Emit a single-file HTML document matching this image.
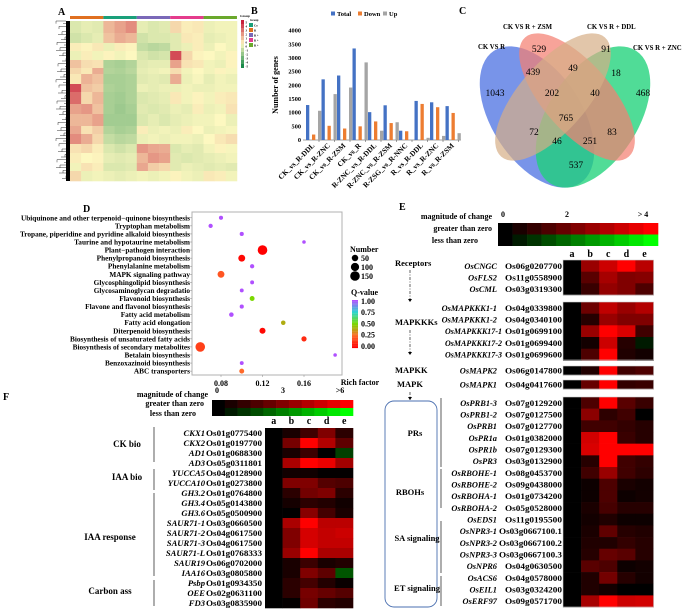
<!DOCTYPE html>
<html><head><meta charset="utf-8"><style>
html,body{margin:0;padding:0;background:#fff}
svg{display:block;font-family:"Liberation Serif",serif}
text{font-weight:bold}
</style></head><body>
<svg id="fig" width="685" height="609" viewBox="0 0 685 609" xmlns="http://www.w3.org/2000/svg">
<g id="gA"></g>
<g id="gB"></g>
<g id="gC"></g>
<g id="gD"></g>
<g id="gE"></g>
<g id="gF"></g>
</svg>
<script>
// ---------- DATA ----------
const aBlockHeights=[12,10,8,9,8,6,10,8,12,10,12,8,10,9,10,8,10];
const aBlockValues=[
[-0.6,-0.4,-0.5,1.2,1.6,2.0,-0.4,-0.6,-0.5,0.6,0.2,0.3,-0.3,-0.2,-0.2],
[-0.8,-0.6,-0.4,1.0,1.4,1.2,-0.8,-0.6,-0.6,-0.5,0.3,0.2,-0.4,-0.3,-0.2],
[0.2,0.1,0.3,-0.3,0.2,0.1,-1.0,-1.2,-1.1,-0.5,-0.3,0.2,-0.3,0.0,-0.2],
[-0.3,0.2,-0.2,0.1,-0.2,0.0,-0.6,-0.8,-0.7,3.2,0.6,0.1,0.0,-0.2,0.1],
[1.0,0.5,0.4,-1.4,-1.5,-1.3,-0.5,-0.4,-0.4,1.6,0.4,0.3,-0.2,-0.3,0.1],
[0.6,0.3,1.4,-1.3,-1.4,-1.2,-0.4,-0.3,-0.2,0.5,-0.2,0.0,-0.2,0.1,-0.1],
[0.3,1.3,1.0,-1.5,-1.5,-1.4,-0.5,-0.4,-0.5,1.4,-0.3,-0.1,-0.4,-0.2,-0.3],
[3.2,1.0,0.8,-1.4,-1.5,-1.4,-0.3,-0.4,-0.3,-0.3,-0.2,-0.3,-0.3,-0.2,-0.2],
[2.6,0.6,1.2,-1.5,-1.6,-1.4,-0.6,-0.5,-0.4,0.3,-0.2,0.1,-0.2,0.2,0.3],
[1.6,1.8,1.0,-1.5,-1.7,-1.5,-0.5,-0.6,-0.5,-0.3,-0.4,0.2,-0.3,-0.2,0.4],
[1.2,1.2,1.6,-1.6,-1.6,-1.6,-0.6,-0.4,-0.6,-0.4,-0.3,-0.2,-0.2,0.0,-0.3],
[1.5,0.4,0.8,-1.3,-1.5,-1.4,0.2,-0.3,-0.2,-0.3,0.2,0.0,-0.3,-0.2,-0.1],
[2.0,1.4,0.6,-1.0,-1.2,-1.1,-0.3,-0.2,-0.3,-0.2,-0.2,-0.3,0.0,0.3,0.5],
[0.4,0.6,0.2,-0.6,-0.8,-0.6,1.8,1.5,1.4,-0.6,-0.4,-0.5,-0.2,0.1,-0.1],
[0.2,0.0,0.1,-0.4,-0.5,-0.4,1.2,1.8,1.6,-0.5,-0.6,-0.5,-0.4,-0.3,-0.2],
[-0.2,0.4,0.2,-0.6,-0.6,-0.5,1.5,0.8,0.6,-0.5,-0.3,-0.4,-0.5,-0.4,-0.5],
[0.6,-0.3,-0.2,-0.3,-0.4,-0.3,-0.2,-0.3,-0.2,0.1,-0.2,-0.3,0.3,0.2,-0.2]];
const aGroupColors=["#e07020","#1aa07a","#7a68b8","#e43c8c","#6aa82c"];

const bCategories=["CK_vs_R-DDL","CK_vs_R-ZNC","CK_vs_R-ZSM","CK_vs_R","R-ZNC_vs_R-DDL","R-ZNC_vs_R-ZSM","R-ZSG_vs_R-NNC","R_vs_R-DDL","R_vs_R-ZNC","R_vs_R-ZSM"];
const bTotal=[1280,2220,2360,3350,1020,1270,340,1430,1380,1240];
const bDown=[200,520,420,500,680,620,320,1320,1200,990];
const bUp=[1070,1680,1920,2840,340,650,0,80,150,250];
const bTicks=[0,500,1000,1500,2000,2500,3000,3500,4000];

const cSetLabels=["CK VS R","CK VS R + ZSM","CK VS R + DDL","CK VS R + ZNC"];
const cCounts=[529,91,439,49,18,1043,202,40,468,765,72,83,46,251,537];

const dPathways=["Ubiquinone and other terpenoid\u2212quinone biosynthesis","Tryptophan metabolism","Tropane, piperidine and pyridine alkaloid biosynthesis","Taurine and hypotaurine metabolism","Plant\u2212pathogen interaction","Phenylpropanoid biosynthesis","Phenylalanine metabolism","MAPK signaling pathway","Glycosphingolipid biosynthesis","Glycosaminoglycan degradatio","Flavonoid biosynthesis","Flavone and flavonol biosynthesis","Fatty acid metabolism","Fatty acid elongation","Diterpenoid biosynthesis","Biosynthesis of unsaturated fatty acids","Biosynthesis of secondary metabolites","Betalain biosynthesis","Benzoxazinoid biosynthesis","ABC transporters"];
const dRich=[0.08,0.07,0.10,0.16,0.12,0.10,0.11,0.08,0.11,0.10,0.11,0.10,0.09,0.14,0.12,0.16,0.06,0.19,0.10,0.10];
const dNumber=[10,12,10,5,150,60,12,60,8,8,20,10,15,15,40,25,150,5,8,20];
const dQ=[1,1,1,1,0,0.02,1,0.2,1,1,0.5,1,1,0.4,0.02,0.1,0.15,1,1,0.25];
const dXTicks=[0.08,0.12,0.16];

const eGenes=["OsCNGC","OsFLS2","OsCML","OsMAPKKK1-1","OsMAPKKK1-2","OsMAPKKK17-1","OsMAPKKK17-2","OsMAPKKK17-3","OsMAPK2","OsMAPK1","OsPRB1-3","OsPRB1-2","OsPRB1","OsPR1a","OsPR1b","OsPR3","OsRBOHE-1","OsRBOHE-2","OsRBOHA-1","OsRBOHA-2","OsEDS1","OsNPR3-1","OsNPR3-2","OsNPR3-3","OsNPR6","OsACS6","OsEIL1","OsERF97"];
const eIds=["Os06g0207700","Os11g0558900","Os03g0319300","Os04g0339800","Os04g0340100","Os01g0699100","Os01g0699400","Os01g0699600","Os06g0147800","Os04g0417600","Os07g0129200","Os07g0127500","Os07g0127700","Os01g0382000","Os07g0129300","Os03g0132900","Os08g0453700","Os09g0438000","Os01g0734200","Os05g0528000","Os11g0195500","Os03g0667100.1","Os03g0667100.2","Os03g0667100.3","Os04g0630500","Os04g0578000","Os03g0324200","Os09g0571700"];
const eValues=[
[0,2.4,3.2,4,2.9],[0,1.4,2.6,2.0,2.1],[0,0.9,2.3,2.0,1.2],
[0,1.7,3.0,2.4,2.8],[0,0.6,2.4,2.0,2.0],[0,2.4,4,3.4,1.0],[0,0.3,3.2,0.6,-0.4],[0,1.2,4,0.5,0.3],
[0,0.5,4,1.0,1.2],[0,1.6,4,0.8,0.9],
[0,1.2,4,1.4,0.9],[0,2.2,0.7,1.0,0],[0,1.0,1.0,0.8,0.6],[0,3.3,4,0.9,0.6],[0,3.4,4,4,4],[0,0.6,4,1.0,0.8],
[0,1.0,2.4,1.0,0.7],[0,0.2,1.2,0.4,0.3],[0,0.2,1.2,0.2,0.3],[0,0.4,1.1,0.6,0.6],
[0,0.3,0.5,0.2,0.2],[0,0.4,1.5,0.6,0.5],[0,0.5,0.5,0.8,0.6],[0,0.6,1.6,1.4,0.6],[0,1.4,1.2,0.2,0.3],
[0,0.5,1.8,0.6,0.3],[0,0.5,0.3,0,0],[0,2.6,4,3.2,3.3]];
const eCols=["a","b","c","d","e"];

const fGenes=["CKX1","CKX2","AD1","AD3","YUCCA5","YUCCA10","GH3.2","GH3.4","GH3.6","SAUR71-1","SAUR71-2","SAUR71-3","SAUR71-L","SAUR19","IAA16","Psbp","OEE","FD3"];
const fIds=["Os01g0775400","Os01g0197700","Os01g0688300","Os05g0311801","Os04g0128900","Os01g0273800","Os01g0764800","Os05g0143800","Os05g0500900","Os03g0660500","Os04g0617500","Os04g0617500","Os01g0768333","Os06g0702000","Os03g0805800","Os01g0934350","Os02g0631100","Os03g0835900"];
const fValues=[
[0,0.6,1.5,3.0,1.0],[0,2.8,6,4.2,2.2],[0,0.6,1.4,0,-1.5],[0,4,6,5.5,3.8],
[0,0.4,0.4,0.1,0.1],[0,3,3,2,1.8],
[0,1,2.7,3,1],[0,0.5,1,0.8,0.4],[0,0,3.2,1.6,0.6],[0,4,6,4.4,4.4],[0,3,5,4.6,4.8],[0,3,5,4.6,4.6],[0,3.6,6,4,4],[0,0.6,1.4,0.6,0.8],[0,0.6,3,2.2,-2],
[0,1,1.6,0.8,0.2],[0,1,2.8,2.4,2],[0,0.1,2.6,1,0.8]];

// ---------- HELPERS ----------
const NS="http://www.w3.org/2000/svg";
function mk(tag,parent,attrs){const e=document.createElementNS(NS,tag);for(const k in attrs)e.setAttribute(k,attrs[k]);parent.appendChild(e);return e;}
function txt(parent,x,y,s,size,anchor,extra){const t=mk("text",parent,Object.assign({x:x,y:y,"font-size":size,"text-anchor":anchor||"start"},extra||{}));t.textContent=s;return t;}
function lerp(a,b,t){return a+(b-a)*t;}
function hex(c){return [parseInt(c.slice(1,3),16),parseInt(c.slice(3,5),16),parseInt(c.slice(5,7),16)];}
function mix(c1,c2,t){const a=hex(c1),b=hex(c2);return "rgb("+a.map((v,i)=>Math.round(lerp(v,b[i],t))).join(",")+")";}

// ---------- PANEL A ----------
(function(){
const g=document.getElementById("gA");
let t=txt(g,58,15,"A",10,"start");

const x0=70,cw=11.13,y0=21;
function aColor(v){return v>=0?mix("#fdf8c0","#c8203c",Math.min(v/4,1)):mix("#fdf8c0","#1a8a4a",Math.min(-v/4,1));}
aGroupColors.forEach((c,i)=>{const r=mk("rect",g,{x:x0+i*3*cw,y:16,width:3*cw,height:3,fill:c});
});
let y=y0;
aBlockHeights.forEach((h,bi)=>{
  aBlockValues[bi].forEach((v,ci)=>{
    const r=mk("rect",g,{x:x0+ci*cw,y:y,width:cw+0.3,height:h+0.3,fill:aColor(v)});
    
  });
  y+=h;
});
const d=mk("g",g,{stroke:"#000","stroke-width":0.4,fill:"none"});

mk("rect",d,{x:66,y:y0,width:4,height:y-y0,fill:"#000",stroke:"none"});
for(let i=0;i<60;i++){const yy=y0+i*(y-y0)/60;const l=(i*7)%11;mk("line",d,{x1:66,y1:yy,x2:56+l,y2:yy});if(i%2==0)mk("line",d,{x1:56+l,y1:yy,x2:56+l,y2:yy+(y-y0)/60});}
const lg=mk("g",g,{});

for(let i=0;i<12;i++){const v=5-i*10/11;mk("rect",lg,{x:241,y:20+i*4,width:3,height:4,fill:aColor(v*0.8)});
txt(lg,245.5,23.5+i*4,String(Math.round(v)),3,"start");}
txt(lg,240,17,"Group",3.5,"start");txt(lg,250,21,"Group",3,"start");
["Co","R","R +","R +","R +"].forEach((s,i)=>{mk("rect",lg,{x:249,y:23+i*5,width:4,height:4,fill:aGroupColors[[1,0,2,3,4][i]]});txt(lg,254,26.5+i*5,s,3,"start");});
})();

// ---------- PANEL B ----------
(function(){
const g=document.getElementById("gB");
let t=txt(g,251,14,"B",10,"start");

const y0=140,ymax=4000,hpx=109.3,xa=303,pitch=15.5,gx0=306;
const Y=v=>y0-v/ymax*hpx;
const X=i=>gx0+i*pitch;
bTicks.forEach(v=>{const l=txt(g,301,Y(v)+2,String(v),6.3,"end");
});
const ax=mk("line",g,{x1:xa,y1:y0,x2:461,y2:y0,stroke:"#444","stroke-width":0.6});

bCategories.forEach((c,i)=>{mk("line",g,{x1:X(i)+13,y1:y0,x2:X(i)+13,y2:y0+2,stroke:"#444","stroke-width":0.5});
const l=txt(g,0,0,c,7.3,"end",{transform:"translate("+(X(i)+9)+","+(y0+6)+") rotate(-45)"});
});
const series=[[bTotal,"#4472c4",0,"bar-total"],[bDown,"#ed7d31",6,"bar-down"],[bUp,"#a5a5a5",12,"bar-up"]];
series.forEach(s=>{s[0].forEach((v,i)=>{const r=mk("rect",g,{x:X(i)+s[2],y:Y(v),width:3.3,height:y0-Y(v),fill:s[1]});
});});
const yt=txt(g,0,0,"Number of genes",8,"middle",{transform:"translate(278,85) rotate(-90)"});

[["Total","#4472c4",331],["Down","#ed7d31",358],["Up","#a5a5a5",383]].forEach(e=>{
const lg=mk("g",g,{});
mk("rect",lg,{x:e[2],y:11.5,width:4,height:4,fill:e[1]});txt(lg,e[2]+6,16,e[0],6.5,"start");});
})();

// ---------- PANEL C ----------
(function(){
const g=document.getElementById("gC");
let t=txt(g,459,14,"C",10,"start");

const ell=[[537,117,45,79,-33,"#3f66e0",0.7,"venn-ck-vs-r"],[593,117,45,79,33,"#1fd27a",0.78,"venn-ck-vs-r-znc"],
[577,97,34,79,-41,"#f47f72",0.72,"venn-ck-vs-r-zsm"],[553,97,34,79,41,"#d6ae86",0.7,"venn-ck-vs-r-ddl"]];
ell.forEach(e=>{const el=mk("ellipse",g,{cx:e[0],cy:e[1],rx:e[2],ry:e[3],fill:e[5],"fill-opacity":e[6],transform:"rotate("+e[4]+" "+e[0]+" "+e[1]+")"});
});
const lp=[[478,49,"start"],[503,29,"start"],[587,29,"start"],[633,50,"start"]];
cSetLabels.forEach((s,i)=>{const l=txt(g,lp[i][0],lp[i][1],s,6.8,lp[i][2]);});
const cp=[[539,52],[606,52],[533,75],[573,71],[616,76],[495,96],[552,96],[595,96],[643,96],[566,121],[534,135],[612,135],[557,144],[590,144],[576,168]];
cCounts.forEach((v,i)=>{const l=txt(g,cp[i][0],cp[i][1],String(v),9.5,"middle");l.style.fontWeight="normal";
});
})();

// ---------- PANEL D ----------
(function(){
const g=document.getElementById("gD");
let t=txt(g,83,212,"D",10,"start");

const bx0=192,bx1=342,by0=212,by1=375;
const X=v=>221+(v-0.08)*1037.5;
const Y=i=>217.8+i*8.07;
const box=mk("rect",g,{x:bx0,y:by0,width:bx1-bx0,height:by1-by0,fill:"#fff",stroke:"#b0b0b0","stroke-width":1});

function qColor(q){const st=[[0,"#ff0000"],[0.25,"#ff6a2a"],[0.5,"#7ad800"],[0.75,"#2ad6d0"],[1,"#b050ff"]];
for(let i=0;i<4;i++){if(q<=st[i+1][0])return mix(st[i][1],st[i+1][1],(q-st[i][0])/0.25);}return st[4][1];}
const R=n=>1.1+Math.sqrt(n/150)*3.7;
dPathways.forEach((p,i)=>{const l=txt(g,190,Y(i)+2.5,p,7.3,"end");
mk("line",g,{x1:190,y1:Y(i),x2:192,y2:Y(i),stroke:"#888","stroke-width":0.5});});
dRich.forEach((v,i)=>{const c=mk("circle",g,{cx:X(v),cy:Y(i),r:R(dNumber[i]),fill:qColor(dQ[i])});
});
dXTicks.forEach(v=>{mk("line",g,{x1:X(v),y1:by1,x2:X(v),y2:by1+2,stroke:"#888","stroke-width":0.5});
const l=txt(g,X(v),386,v.toFixed(2),8,"middle");});
const xt=txt(g,360,385,"Rich factor",8,"middle");
const lg=mk("g",g,{});
txt(lg,350,252,"Number",8,"start");
[50,100,150].forEach((n,i)=>{mk("circle",lg,{cx:355,cy:258+i*9,r:R(n),fill:"#000"});txt(lg,361,261+i*9,String(n),8,"start");});
const cl=mk("g",g,{});
txt(cl,351,295,"Q-value",8,"start");
for(let i=0;i<40;i++)mk("rect",cl,{x:352,y:300+i*1.2,width:6,height:1.3,fill:qColor(1-i/39)});
["1.00","0.75","0.50","0.25","0.00"].forEach((s,i)=>txt(cl,361,304+i*11.2,s,8,"start"));
})();

function colorBar(g,x,y,w,h){for(let i=0;i<11;i++){const r=Math.round(255*i/10);
mk("rect",g,{x:x+i*w/11,y:y,width:w/11+0.3,height:h,fill:"rgb("+r+",0,0)"});
mk("rect",g,{x:x+i*w/11,y:y+h,width:w/11+0.3,height:h,fill:"rgb(0,"+r+",0)"});}}
function heatColor(v,max){const k=Math.min(Math.abs(v)/max,1);const c=Math.round(255*k);return v>=0?"rgb("+c+",0,0)":"rgb(0,"+c+",0)";}

// ---------- PANEL E ----------
(function(){
const g=document.getElementById("gE");
let t=txt(g,399,210,"E",10,"start");

const cb=mk("g",g,{});
txt(cb,492,219,"magnitude of change",8,"end");txt(cb,492,231,"greater than zero",8,"end");txt(cb,478,243,"less than zero",8,"end");
txt(cb,503,217,"0",8,"middle");txt(cb,567,217,"2",8,"middle");txt(cb,643,217,"> 4",8,"middle");
colorBar(cb,498,223,160,11.5);
const hx=563,cw=18.1,rh=11.67;
const rowY=[260,271.7,283.3, 302,313.7,325.3,337,348.7, 366,380];
const rowH=[11.7,11.7,11.7,11.7,11.7,11.7,11.7,11.7,9,9];
for(let i=0;i<18;i++){rowY.push(397+i*rh);rowH.push(rh);}
eCols.forEach((c,i)=>{const l=txt(g,hx+cw*i+cw/2,257,c,10,"middle");});
eValues.forEach((row,ri)=>{
  const long=eGenes[ri].length>11;
  const gx=long?502:497;
  const ex={"font-style":"italic"};
  if(long){ex.textLength=eGenes[ri].length>12?62:57;ex.lengthAdjust="spacingAndGlyphs";}
  const l1=txt(g,long?gx-ex.textLength:gx,rowY[ri]+rowH[ri]/2+3,eGenes[ri],8.4,long?"start":"end",ex);
  
  const idLong=eIds[ri].length>12;
  const l2=txt(g,idLong?499:505,rowY[ri]+rowH[ri]/2+3,eIds[ri],8.8,"start",{textLength:idLong?63:57,lengthAdjust:"spacingAndGlyphs"});
  
  row.forEach((v,ci)=>{const r=mk("rect",g,{x:hx+ci*cw,y:rowY[ri],width:cw+0.3,height:rowH[ri]+0.3,fill:heatColor(v,4)});
  });
});
[[260,295],[302,360],[366,375],[380,389],[397,607]].forEach(b=>{mk("rect",g,{x:hx,y:b[0],width:cw*5,height:b[1]-b[0],fill:"none",stroke:"#ccc","stroke-width":0.6});});
const pw=mk("g",g,{});
txt(pw,395,266,"Receptors",8.5,"start");txt(pw,395,325,"MAPKKKs",8.5,"start");txt(pw,395,373,"MAPKK",8.5,"start");txt(pw,397,387,"MAPK",8.5,"start");
[[410,270,302],[410,330,355],[410,392,400]].forEach(a=>{mk("line",pw,{x1:a[0],y1:a[1],x2:a[0],y2:a[2],stroke:"#000","stroke-width":0.6,"stroke-dasharray":"3,1.5,1,1.5"});
mk("path",pw,{d:"M"+(a[0]-2)+","+(a[2]-3)+" L"+(a[0]+2)+","+(a[2]-3)+" L"+a[0]+","+a[2]+"Z",fill:"#000"});});
mk("rect",pw,{x:385,y:401,width:52,height:206,rx:9,fill:"none",stroke:"#4a6fb0","stroke-width":0.9});
txt(pw,415,436,"PRs",8.5,"middle");txt(pw,410,495,"RBOHs",8.5,"middle");txt(pw,417,541,"SA signaling",8.5,"middle");txt(pw,417,591,"ET signaling",8.5,"middle");
[[398,467],[469,508],[521,573],[576,606]].forEach(s=>mk("line",pw,{x1:441,y1:s[0],x2:441,y2:s[1],stroke:"#333","stroke-width":0.8}));
})();

// ---------- PANEL F ----------
(function(){
const g=document.getElementById("gF");
let t=txt(g,3,400,"F",10,"start");

const cb=mk("g",g,{});
txt(cb,208,397,"magnitude of change",8,"end");txt(cb,204,406,"greater than zero",8,"end");txt(cb,196,416,"less than zero",8,"end");
txt(cb,217,393,"0",8,"middle");txt(cb,283,393,"3",8,"middle");txt(cb,340,393,">6",8,"middle");
colorBar(cb,212,400,141,8);
const hx=265,cw=17.6,rh=10,y0=428;
eCols.forEach((c,i)=>{const l=txt(g,hx+cw*i+cw/2,424,c,10,"middle");});
fValues.forEach((row,ri)=>{
  const y=y0+ri*rh;
  const l1=txt(g,205,y+rh/2+3,fGenes[ri],8.6,"end",{"font-style":"italic"});
  
  const l2=txt(g,206,y+rh/2+3,fIds[ri],8.8,"start",{textLength:56,lengthAdjust:"spacingAndGlyphs"});
  
  row.forEach((v,ci)=>{const r=mk("rect",g,{x:hx+ci*cw,y:y,width:cw+0.3,height:rh+0.3,fill:heatColor(v,6)});
  });
});
const gl=mk("g",g,{});
txt(gl,127,447,"CK bio",9,"middle");txt(gl,127,480,"IAA bio",9,"middle");txt(gl,110,540,"IAA response",9,"middle");txt(gl,110,594,"Carbon ass",9,"middle");
[[427,462],[469,490],[493,576],[580,606]].forEach(s=>mk("line",gl,{x1:154,y1:s[0],x2:154,y2:s[1],stroke:"#333","stroke-width":0.8}));
})();
</script>
</body></html>
